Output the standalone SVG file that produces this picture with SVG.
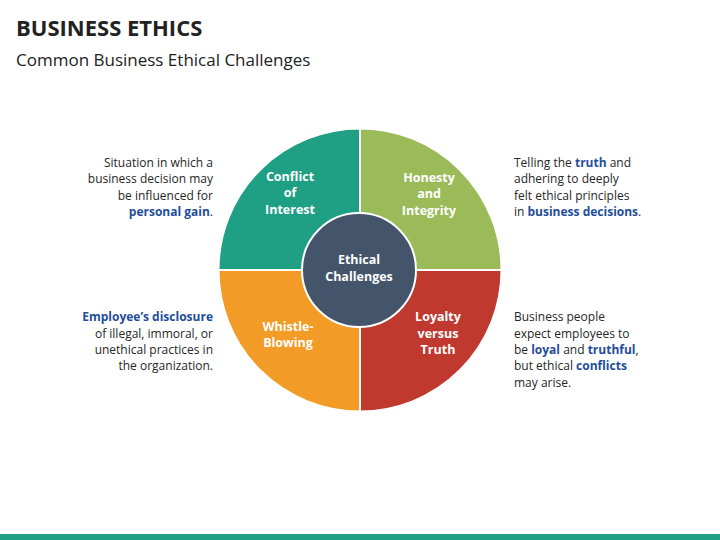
<svg xmlns="http://www.w3.org/2000/svg" width="720" height="540" viewBox="0 0 720 540">
<style>
text{font-family:"Open Sans","Liberation Sans",sans-serif;}
.d{font-size:12px;fill:#262626}
.b{fill:#1F4E9A;font-weight:bold}
.w{font-size:12.5px;fill:#fff;font-weight:bold;text-anchor:middle}
.q{stroke:#fff;stroke-width:2}
</style>
<rect width="720" height="540" fill="#fff"/>
<text x="16" y="36" font-size="22" font-weight="bold" fill="#222">BUSINESS ETHICS</text>
<text x="16" y="66" font-size="17" fill="#222">Common Business Ethical Challenges</text>
<g id="conflict"><path class="q" d="M360,270 L218.5,270 A141.5,141.5 0 0 1 360,128.5 Z" fill="#1FA085"/>
<text class="w" x="290" y="181">Conflict</text><text class="w" x="290" y="197">of</text><text class="w" x="290" y="214">Interest</text></g>
<g id="honesty"><path class="q" d="M360,270 L360,128.5 A141.5,141.5 0 0 1 501.5,270 Z" fill="#9BBB59"/>
<text class="w" x="429" y="182">Honesty</text><text class="w" x="429" y="198">and</text><text class="w" x="429" y="215">Integrity</text></g>
<g id="loyalty"><path class="q" d="M360,270 L501.5,270 A141.5,141.5 0 0 1 360,411.5 Z" fill="#C0392F"/>
<text class="w" x="438" y="321">Loyalty</text><text class="w" x="438" y="338">versus</text><text class="w" x="438" y="354">Truth</text></g>
<g id="whistle"><path class="q" d="M360,270 L360,411.5 A141.5,141.5 0 0 1 218.5,270 Z" fill="#F29B26"/>
<text class="w" x="288" y="331">Whistle-</text><text class="w" x="288" y="347">Blowing</text></g>
<g id="center"><circle cx="359" cy="270" r="57" fill="#44546A" stroke="#fff" stroke-width="2"/>
<text class="w" x="359" y="264">Ethical</text><text class="w" x="359" y="281">Challenges</text></g>
<g id="connectors"></g>
<g id="t1" text-anchor="end" class="d"><text x="213" y="167">Situation in which a</text><text x="213" y="183">business decision may</text><text x="213" y="200">be influenced for</text><text x="213" y="216"><tspan class="b">personal gain</tspan>.</text></g>
<g id="t2" class="d"><text x="514" y="167">Telling the <tspan class="b">truth</tspan> and</text><text x="514" y="183">adhering to deeply</text><text x="514" y="200">felt ethical principles</text><text x="514" y="216">in <tspan class="b">business decisions</tspan>.</text></g>
<g id="t3" text-anchor="end" class="d"><text x="213" y="321" class="b">Employee’s disclosure</text><text x="213" y="338">of illegal, immoral, or</text><text x="213" y="354">unethical practices in</text><text x="213" y="370">the organization.</text></g>
<g id="t4" class="d"><text x="514" y="321">Business people</text><text x="514" y="338">expect employees to</text><text x="514" y="354">be <tspan class="b">loyal</tspan> and <tspan class="b">truthful</tspan>,</text><text x="514" y="370">but ethical <tspan class="b">conflicts</tspan></text><text x="514" y="387">may arise.</text></g>
<rect x="0" y="534" width="720" height="6" fill="#1FA085"/>
</svg>
